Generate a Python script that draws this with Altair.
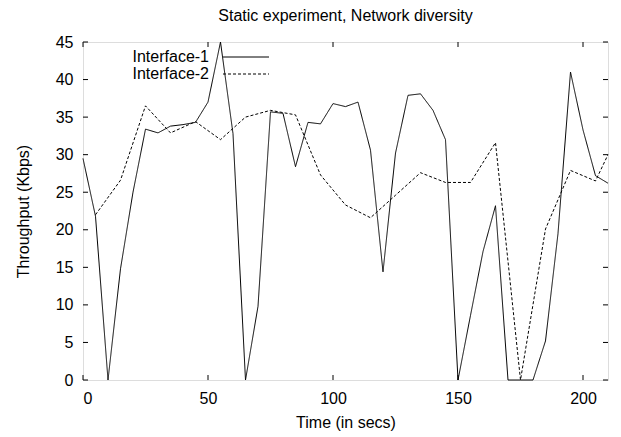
import altair as alt
import pandas as pd

# ---- data ----
t1 = [0, 5, 10, 15, 20, 25, 30, 35, 40, 45, 50, 55, 60, 65, 70, 75, 80, 85, 90, 95, 100,
      105, 110, 115, 120, 125, 130, 135, 140, 145, 150, 155, 160, 165, 170, 175, 180,
      185, 190, 195, 200, 205, 210]
v1 = [29.5, 21.8, 0, 14.8, 25, 33.4, 32.9, 33.8, 34, 34.3, 37, 45, 32.8, 0, 9.8, 35.7, 35.5,
      28.4, 34.3, 34.1, 36.8, 36.4, 37, 30.6, 14.4, 30.2, 37.9, 38.1, 35.9, 32, 0, 8.6, 17.1,
      23.2, 0, 0, 0, 5.2, 19.5, 41, 33.3, 27.2, 26.2]
t2 = [5, 15, 25, 35, 45, 55, 65, 75, 85, 95, 105, 115, 125, 135, 145, 155, 165, 175, 185,
      195, 205, 210]
v2 = [22, 26.6, 36.5, 32.9, 34.4, 32, 35, 35.9, 35.3, 27.3, 23.3, 21.6, 24.6, 27.6, 26.3,
      26.3, 31.6, 0, 20.1, 27.9, 26.5, 30]
series = ["Interface-1", "Interface-2"]
x_ticks = [0, 50, 100, 150, 200]
y_ticks = [0, 5, 10, 15, 20, 25, 30, 35, 40, 45]

FONT = "Liberation Sans"
FS = 16
W, H = 525, 338

df = pd.concat([
    pd.DataFrame({"t": t1, "v": v1, "series": series[0]}),
    pd.DataFrame({"t": t2, "v": v2, "series": series[1]}),
])

x_scale = alt.Scale(domain=[0, 210], nice=False, zero=False)
y_scale = alt.Scale(domain=[0, 45], nice=False)

x_axis = alt.Axis(values=x_ticks, tickSize=0, domain=False, grid=False, labelPadding=10,
                  labelFont=FONT, labelFontSize=FS, labelColor="black",
                  title="Time (in secs)", titleFont=FONT, titleFontSize=FS,
                  titleFontWeight="normal", titleColor="black", titleY=42,
                  titleBaseline="middle")
y_axis = alt.Axis(values=y_ticks, tickSize=0, domain=False, grid=False, labelPadding=10,
                  labelFont=FONT, labelFontSize=FS, labelColor="black",
                  title="Throughput (Kbps)", titleFont=FONT, titleFontSize=FS,
                  titleFontWeight="normal", titleColor="black", titleX=-60,
                  titleY=H / 2, titleAngle=270, titleBaseline="middle", titleAlign="center")

lines = alt.Chart(df).mark_line(color="black", strokeWidth=1).encode(
    x=alt.X("t:Q", scale=x_scale, axis=x_axis),
    y=alt.Y("v:Q", scale=y_scale, axis=y_axis),
    strokeDash=alt.StrokeDash("series:N", scale=alt.Scale(domain=series, range=[[1, 0], [3, 2]]),
                              legend=None),
    detail="series:N",
)

xt = pd.DataFrame({"t": x_ticks})
yt = pd.DataFrame({"v": y_ticks})
TL = 5
tick_style = dict(color="black", strokeWidth=1)
xb = alt.Chart(xt).mark_rule(**tick_style).encode(
    x=alt.X("t:Q", scale=x_scale, axis=x_axis), y=alt.value(H), y2=alt.value(H - TL))
xtp = alt.Chart(xt).mark_rule(**tick_style).encode(
    x=alt.X("t:Q", scale=x_scale, axis=x_axis), y=alt.value(0), y2=alt.value(TL))
yl = alt.Chart(yt).mark_rule(**tick_style).encode(
    y=alt.Y("v:Q", scale=y_scale, axis=y_axis), x=alt.value(0), x2=alt.value(TL))
yr = alt.Chart(yt).mark_rule(**tick_style).encode(
    y=alt.Y("v:Q", scale=y_scale, axis=y_axis), x=alt.value(W - TL), x2=alt.value(W))

legend_layers = []
for i, name in enumerate(series):
    ld = pd.DataFrame({"s": [name]})
    ypos = 15 + i * 17
    legend_layers.append(
        alt.Chart(ld).mark_text(align="right", baseline="middle", font=FONT, fontSize=FS,
                                color="black").encode(
            text="s:N", x=alt.value(126), y=alt.value(ypos)))
    legend_layers.append(
        alt.Chart(ld).mark_rule(color="black", strokeWidth=1,
                                strokeDash=[1, 0] if i == 0 else [3, 2]).encode(
            x=alt.value(140), x2=alt.value(186), y=alt.value(ypos)))

chart = alt.layer(lines, xb, xtp, yl, yr, *legend_layers).properties(
    width=W, height=H,
    title=alt.TitleParams("Static experiment, Network diversity", font=FONT, fontSize=FS,
                          fontWeight="normal", color="black", anchor="middle", offset=10),
    padding={"left": 75, "top": 34, "right": 5, "bottom": 55},
    autosize=alt.AutoSizeParams(type="none"),
).configure_view(stroke="black", strokeWidth=1).configure(background="white")

chart.save("out.html", embed_options={"renderer": "svg", "actions": False})
